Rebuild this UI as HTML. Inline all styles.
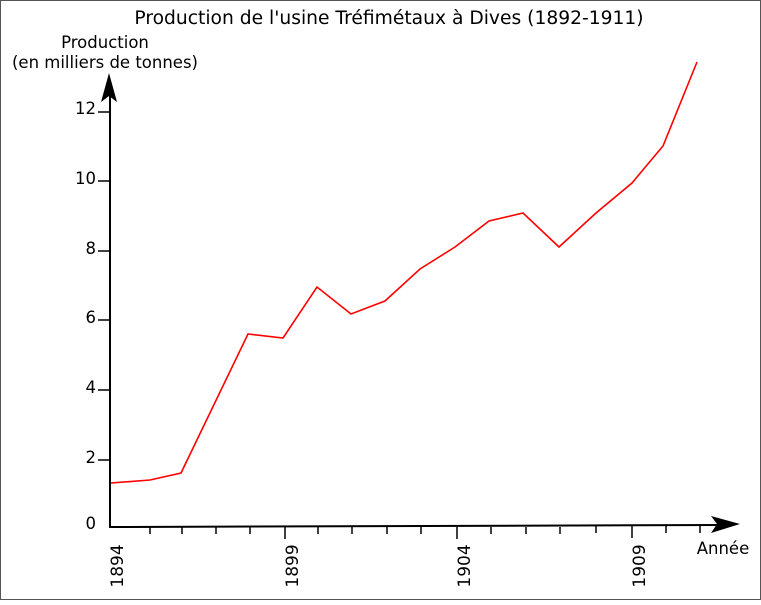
<!DOCTYPE html>
<html><head><meta charset="utf-8"><style>body{margin:0;background:#fff}</style></head><body>
<svg width="761" height="600" xmlns="http://www.w3.org/2000/svg" font-family="DejaVu Sans, Liberation Sans, sans-serif">
<rect x="0.5" y="0.5" width="760" height="599" fill="#fff" stroke="#555"/>
<text x="389" y="24" font-size="18.7" text-anchor="middle">Production de l'usine Tréfimétaux à Dives (1892-1911)</text>
<text x="105" y="48" font-size="16.5" text-anchor="middle">Production</text>
<text x="105" y="68" font-size="16.5" text-anchor="middle">(en milliers de tonnes)</text>
<g stroke="#000" stroke-width="2" fill="none">
<path d="M110,528 L110,95"/>
<path d="M110,527 L720,525"/>
</g>
<path d="M109,73 L117,102 L109,96 L101,102 Z" fill="#000"/>
<path d="M740,524 L711,516 L717,524 L711,533 Z" fill="#000"/>
<g stroke="#000" stroke-width="1.5">
<path d="M98,112H110M98,181H110M98,251H110M98,320H110M98,390H110M98,460H110"/>
<path d="M150,527v7M182,527v7M216,527v7M250,527v7M318,527v7M352,527v7M387,527v7M421,527v7M491,527v7M526,527v7M560,527v7M596,526v7M666,526v7M700,526v7"/>
<path d="M285,527v12M457,527v12M632,526v12"/>
</g>
<g font-size="16.5" text-anchor="end">
<text x="96" y="114">12</text><text x="96" y="184">10</text><text x="96" y="254">8</text>
<text x="96" y="323">6</text><text x="96" y="393">4</text><text x="96" y="463">2</text><text x="96" y="529">0</text>
</g>
<g font-size="17" text-anchor="middle">
<text transform="translate(123,566) rotate(-90)">1894</text>
<text transform="translate(298,566) rotate(-90)">1899</text>
<text transform="translate(470,566) rotate(-90)">1904</text>
<text transform="translate(645,566) rotate(-90)">1909</text>
</g>
<text x="723" y="554" font-size="16.5" text-anchor="middle">Année</text>
<polyline fill="none" stroke="#f00" stroke-width="1.6" points="111,483 150,480 181,473 248,334 283,338 317,287 351,314 385,301 420,269 455,247 489,221 523,213 559,247 596,213 632,183 663,146 697,62"/>
</svg>
</body></html>
